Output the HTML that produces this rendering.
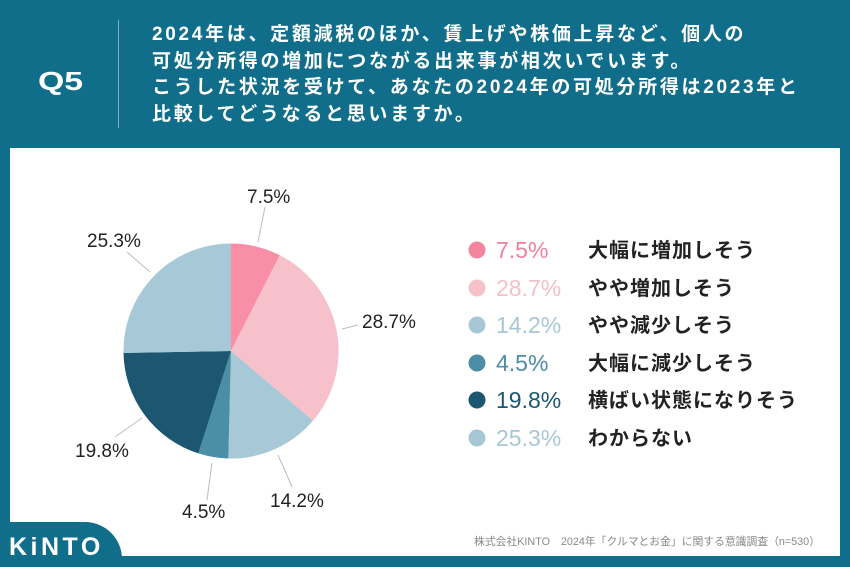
<!DOCTYPE html>
<html><head><meta charset="utf-8">
<style>
html,body{margin:0;padding:0;}
body{width:850px;height:567px;background:#106E8B;position:relative;overflow:hidden;font-family:"Liberation Sans","Noto Sans CJK JP",sans-serif;}
.panel{position:absolute;left:10px;top:148px;width:830px;height:408px;background:#fff;}
.q{position:absolute;left:38px;top:64px;font-size:26px;font-weight:bold;color:#fff;line-height:34px;transform:scaleX(1.3);transform-origin:0 0;}
.div{position:absolute;left:118px;top:20px;width:1px;height:108px;background:rgba(255,255,255,0.45);}
.head{position:absolute;left:152px;top:22px;font-size:19px;font-weight:bold;color:#fff;letter-spacing:2.7px;line-height:26.5px;white-space:nowrap;font-family:"Liberation Sans","Noto Sans CJK JP",sans-serif;}
svg{position:absolute;left:0;top:0;}
</style></head><body>
<div class="panel"></div>
<div class="q">Q5</div>
<div class="div"></div>
<div class="head">2024年は、定額減税のほか、賃上げや株価上昇など、個人の<br>可処分所得の増加につながる出来事が相次いでいます。<br>こうした状況を受けて、あなたの2024年の可処分所得は2023年と<br>比較してどうなると思いますか。</div>
<svg width="850" height="567" viewBox="0 0 850 567" xmlns="http://www.w3.org/2000/svg">
  <!-- pie -->
  <path d="M231,351 L231,243.5 A107.5,107.5 0 0 1 279.8,255.2 Z" fill="#F98FA6"/>
  <path d="M231,351 L279.8,255.2 A107.5,107.5 0 0 1 313.0,420.6 Z" fill="#F6C1CB"/>
  <path d="M231,351 L313.0,420.6 A107.5,107.5 0 0 1 228.3,458.5 Z" fill="#A7C8D6"/>
  <path d="M231,351 L228.3,458.5 A107.5,107.5 0 0 1 198.4,453.4 Z" fill="#4A8FA6"/>
  <path d="M231,351 L198.4,453.4 A107.5,107.5 0 0 1 123.5,353.0 Z" fill="#1C5670"/>
  <path d="M231,351 L123.5,353.0 A107.5,107.5 0 0 1 231,243.5 Z" fill="#A7C8D6"/>
  <!-- leader lines -->
  <g stroke="#bdbdbd" stroke-width="1" fill="none">
    <line x1="258" y1="242" x2="265" y2="207"/>
    <line x1="342" y1="329" x2="358" y2="325"/>
    <line x1="150" y1="272" x2="127" y2="252"/>
    <line x1="142" y1="418" x2="115" y2="437"/>
    <line x1="212" y1="463" x2="207" y2="500"/>
    <line x1="278" y1="455" x2="292" y2="487"/>
  </g>
  <g font-family="Liberation Sans, sans-serif" font-size="19" fill="#222">
    <text x="247" y="203">7.5%</text>
    <text x="362" y="328">28.7%</text>
    <text x="87" y="247">25.3%</text>
    <text x="75" y="457">19.8%</text>
    <text x="182" y="518">4.5%</text>
    <text x="270" y="507">14.2%</text>
  </g>
  <!-- legend -->
  <g>
    <circle cx="477" cy="250" r="8.5" fill="#F3859E"/>
    <circle cx="477" cy="288" r="8.5" fill="#F5C1CB"/>
    <circle cx="477" cy="325" r="8.5" fill="#A8C7D5"/>
    <circle cx="477" cy="363" r="8.5" fill="#4B8EA5"/>
    <circle cx="477" cy="400" r="8.5" fill="#1C5670"/>
    <circle cx="477" cy="438" r="8.5" fill="#A8C7D5"/>
  </g>
  <g font-family="Liberation Sans, sans-serif" font-size="23">
    <text x="496" y="258" fill="#F1819B">7.5%</text>
    <text x="496" y="296" fill="#F4BFCA">28.7%</text>
    <text x="496" y="333" fill="#A8C7D5">14.2%</text>
    <text x="496" y="371" fill="#4B8EA5">4.5%</text>
    <text x="496" y="408" fill="#1C5670">19.8%</text>
    <text x="496" y="446" fill="#A8C7D5">25.3%</text>
  </g>
  <g font-family="Liberation Sans, Noto Sans CJK JP, sans-serif" font-size="20" font-weight="bold" fill="#222" letter-spacing="1">
    <text x="588" y="257">大幅に増加しそう</text>
    <text x="588" y="295">やや増加しそう</text>
    <text x="588" y="332">やや減少しそう</text>
    <text x="588" y="370">大幅に減少しそう</text>
    <text x="588" y="407">横ばい状態になりそう</text>
    <text x="588" y="445">わからない</text>
  </g>
  <text x="820" y="545" text-anchor="end" font-family="Liberation Sans, Noto Sans CJK JP, sans-serif" font-size="10.8" fill="#888">株式会社KINTO　2024年「クルマとお金」に関する意識調査（n=530）</text>
  <!-- logo tab -->
  <path d="M0,522 H85 A37,37 0 0 1 122,559 V567 H0 Z" fill="#106E8B"/>
  <text x="9" y="555" font-family="Liberation Sans, sans-serif" font-size="25" font-weight="bold" fill="#fff" letter-spacing="3.5">KiNTO</text>
</svg>
</body></html>
